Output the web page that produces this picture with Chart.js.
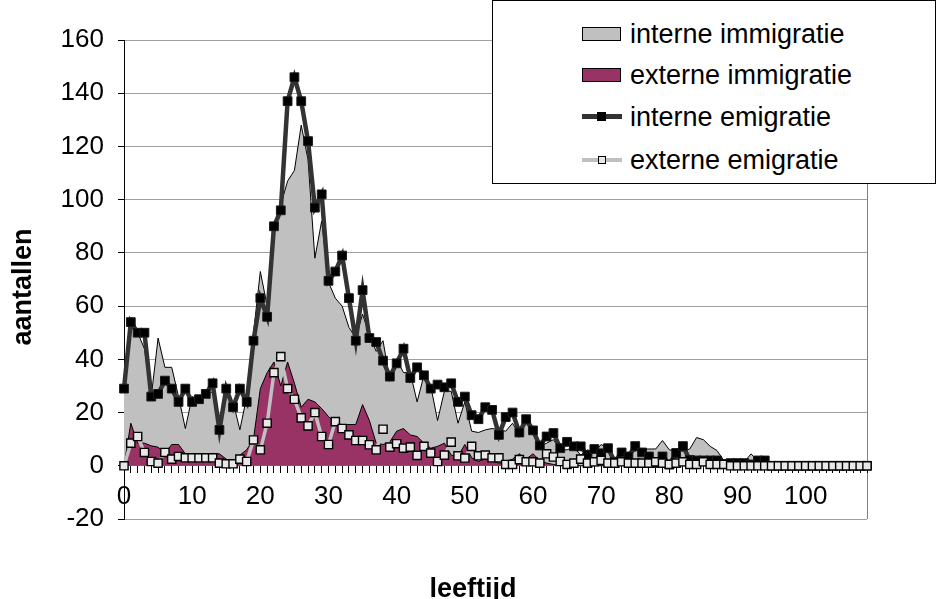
<!DOCTYPE html>
<html>
<head>
<meta charset="utf-8">
<script src="https://cdn.jsdelivr.net/npm/chart.js@4.4.0/dist/chart.umd.min.js"></script>
<style>
  html, body { margin: 0; padding: 0; background: #fff; }
  #wrap { position: relative; width: 936px; height: 599px; font-family: 'Liberation Sans', Arial, sans-serif; color: #000; }
  #chart { position: absolute; left: 0; top: 0; }
  .legend { position: absolute; left: 492px; top: 0; width: 442px; height: 182px; border: 1px solid #000; background: #fff; }
  .item { position: absolute; left: 0; width: 440px; height: 30px; }
  .item .txt { position: absolute; left: 137px; top: 0; font-size: 27px; line-height: 30px; white-space: nowrap; }
  .swatch { position: absolute; left: 89px; top: 8px; width: 37px; height: 12px; border: 1px solid #000; }
  .ln { position: absolute; left: 89px; width: 40px; }
  .mk { position: absolute; box-sizing: border-box; border: 1px solid #000; }
  .title { position: absolute; font-weight: bold; font-size: 27px; line-height: 30px; white-space: nowrap; }
</style>
</head>
<body>
<div id="wrap">
  <canvas id="chart" width="936" height="599"></canvas>
  <div class="title" style="left:373px; top:573px; width:200px; text-align:center;">leeftijd</div>
  <div class="title" style="left:-78px; top:272px; width:200px; text-align:center; transform: rotate(-90deg);">aantallen</div>
  <div class="legend">
    <div class="item" style="top:18px;"><div class="swatch" style="background:#c0c0c0;"></div><span class="txt">interne immigratie</span></div>
    <div class="item" style="top:59px;"><div class="swatch" style="background:#993366;"></div><span class="txt">externe immigratie</span></div>
    <div class="item" style="top:101px;">
      <div class="ln" style="top:12px; height:5px; background:#333;"></div>
      <div class="mk" style="left:104px; top:10px; width:9px; height:9px; background:#000;"></div>
      <span class="txt">interne emigratie</span></div>
    <div class="item" style="top:144px;">
      <div class="ln" style="top:13px; height:4px; background:#c0c0c0;"></div>
      <div class="mk" style="left:105px; top:11px; width:8px; height:8px; background:#e8e8e8;"></div>
      <span class="txt">externe emigratie</span></div>
  </div>
</div>
<script>
// leeftijden 0 t/m 109
const ages = ['0','1','2','3','4','5','6','7','8','9',
  '10','11','12','13','14','15','16','17','18','19',
  '20','21','22','23','24','25','26','27','28','29',
  '30','31','32','33','34','35','36','37','38','39',
  '40','41','42','43','44','45','46','47','48','49',
  '50','51','52','53','54','55','56','57','58','59',
  '60','61','62','63','64','65','66','67','68','69',
  '70','71','72','73','74','75','76','77','78','79',
  '80','81','82','83','84','85','86','87','88','89',
  '90','91','92','93','94','95','96','97','98','99',
  '100','101','102','103','104','105','106','107','108','109'];

const xTickLabels = ['0','10','20','30','40','50','60','70','80','90','100'];

const interneImmigratie = [28, 52, 50, 44, 26, 48, 37, 37, 26, 14,
  26, 25, 26, 28, 14, 26, 24, 13.5, 26, 50,
  73, 60, 90, 98, 107, 111, 128, 115, 78, 92,
  69, 63, 60, 52, 48, 57, 49, 43, 47, 32,
  40, 35, 35, 24, 34, 30, 17, 28, 28, 16,
  24, 13, 12.5, 13.5, 14, 13.5, 13, 16, 11.6, 16,
  12.3, 7.3, 8.5, 9.8, 6, 6, 7, 4, 6, 5,
  8, 6.5, 2.5, 5, 5, 5.5, 6.3, 6.3, 6.3, 9.5,
  6, 5.5, 5.5, 6.3, 10.6, 9.8, 7.3, 5.7, 2, 2,
  1, 1.5, 4.5, 1.5, 1, 0, 0, 0, 0, 0,
  0, 0, 0, 0, 0, 0, 0, 0, 0, 0];

const externeImmigratie = [0, 16, 8.5, 8.5, 7.5, 7, 4.7, 8, 8, 4.5,
  4.5, 4.5, 4.5, 4.5, 4.5, 2.5, 1.6, 4, 6, 10,
  29, 35, 39, 30, 39, 31, 22, 25, 24, 21.5,
  18.5, 16, 15.5, 15.5, 15.5, 23, 17, 8.5, 8, 9,
  13, 14, 11.6, 11, 8.5, 6.6, 7.3, 8.5, 4, 3.5,
  8, 3, 1.6, 3, 2, 1, 1.5, 2.5, 4.5, 2.5,
  4.5, 2, 1, 0.5, 0, 0.5, 0, 0, 0, 0,
  0, 0, 0, 0.7, 0, 0, 0.7, 0, 0, 0,
  0, 0, 0, 0, 0, 0, 0, 0, 0, 0,
  0, 0, 0, 0, 0, 0, 0, 0, 0, 0,
  0, 0, 0, 0, 0, 0, 0, 0, 0, 0];

const interneEmigratie = [29, 54, 50, 50, 26, 27, 32, 29, 24, 29,
  24, 25, 27, 31, 13.5, 29, 22, 29, 24, 47,
  63, 56, 90, 96, 137, 146, 137, 122, 97, 102,
  69.5, 73, 79, 63, 47, 66, 48, 46.5, 39.5, 33.5,
  38.5, 44, 33, 37, 34, 29, 30.5, 29.5, 31, 24,
  26, 19, 17.5, 22, 21, 11.6, 18.3, 20, 12.5, 17.5,
  13.3, 7.6, 11, 12.3, 6.6, 9, 7.3, 7.3, 4, 6.3,
  4.7, 6.6, 1.5, 5, 3.5, 7.4, 5, 3.5, 1, 3.5,
  0.5, 4.8, 7.4, 2.2, 2, 2, 2, 2, 0.7, 1,
  1, 1, 0.5, 2, 2, 0, 0, 0, 0, 0,
  0, 0, 0, 0, 0, 0, 0, 0, 0, 0];

const externeEmigratie = [0, 8.5, 11, 5, 1.6, 1, 5, 2.5, 3.5, 3,
  3, 3, 3, 3, 1, 0.75, 0.75, 2.5, 1.6, 9.7,
  6, 16, 35, 41, 29, 25, 18, 15, 20, 11,
  8, 16.6, 14, 11.6, 9.5, 9.5, 7.9, 6, 13.75, 7,
  8.3, 6.6, 7, 3.9, 7.3, 4.75, 1.6, 4, 8.9, 3.75,
  2.9, 7.3, 3.75, 4, 3, 3, 0.5, 0.5, 2.3, 1.5,
  1.5, 1, 4.5, 3.3, 1.6, 0.5, 1, 2.5, 1, 1.5,
  2, 1, 1, 1.5, 1, 1, 1, 1, 1.5, 1,
  0.5, 1, 1.5, 0.5, 0.5, 1.5, 0.5, 0.5, 0.5, 0,
  0, 0, 0, 0, 0, 0, 0, 0, 0, 0,
  0, 0, 0, 0, 0, 0, 0, 0, 0, 0];

const tickFont = { family: "'Liberation Sans', Arial, sans-serif", size: 26 };

new Chart(document.getElementById('chart'), {
  type: 'line',
  data: {
    labels: ages,
    datasets: [
      {
        label: 'interne immigratie',
        data: interneImmigratie,
        fill: 'origin',
        backgroundColor: '#c0c0c0',
        borderColor: '#000',
        borderWidth: 1,
        pointRadius: 0,
        order: 4
      },
      {
        label: 'externe immigratie',
        data: externeImmigratie,
        fill: 'origin',
        backgroundColor: '#993366',
        borderColor: '#000',
        borderWidth: 1,
        pointRadius: 0,
        order: 3
      },
      {
        label: 'interne emigratie',
        data: interneEmigratie,
        fill: false,
        borderColor: '#333333',
        borderWidth: 4.5,
        pointStyle: 'rect',
        pointRadius: 6.2,
        pointBackgroundColor: '#000',
        pointBorderColor: '#1a1a1a',
        pointBorderWidth: 1,
        order: 2
      },
      {
        label: 'externe emigratie',
        data: externeEmigratie,
        fill: false,
        borderColor: '#c0c0c0',
        borderWidth: 3.5,
        pointStyle: 'rect',
        pointRadius: 5.8,
        pointBackgroundColor: '#e8e8e8',
        pointBorderColor: '#000',
        pointBorderWidth: 1.4,
        order: 1
      }
    ]
  },
  options: {
    responsive: false,
    animation: false,
    layout: { padding: { top: 40, right: 69, bottom: 80, left: 0 } },
    plugins: {
      legend: { display: false },
      tooltip: { enabled: false }
    },
    scales: {
      x: {
        type: 'category',
        position: { y: 0 },
        offset: false,
        grid: {
          offset: false,
          drawOnChartArea: true,
          // alleen de rechterrand van het plotvlak
          color: ctx => ctx.index === ages.length - 1 ? '#808080' : 'rgba(0,0,0,0)',
          tickColor: '#000',
          tickLength: 7
        },
        border: { color: '#000', width: 1 },
        ticks: {
          autoSkip: false,
          maxRotation: 0,
          padding: 8,
          color: '#000',
          font: tickFont,
          callback: function (value) {
            const lab = this.getLabelForValue(value);
            return xTickLabels.includes(lab) ? lab : '';
          }
        }
      },
      y: {
        min: -20,
        max: 160,
        ticks: { stepSize: 20, padding: 14, color: '#000', font: tickFont },
        grid: { color: '#a0a0a0', tickColor: '#000', tickLength: 6 },
        border: { color: '#000', width: 1 },
        afterFit: s => { s.width = 124; }
      }
    }
  }
});
</script>
</body>
</html>
